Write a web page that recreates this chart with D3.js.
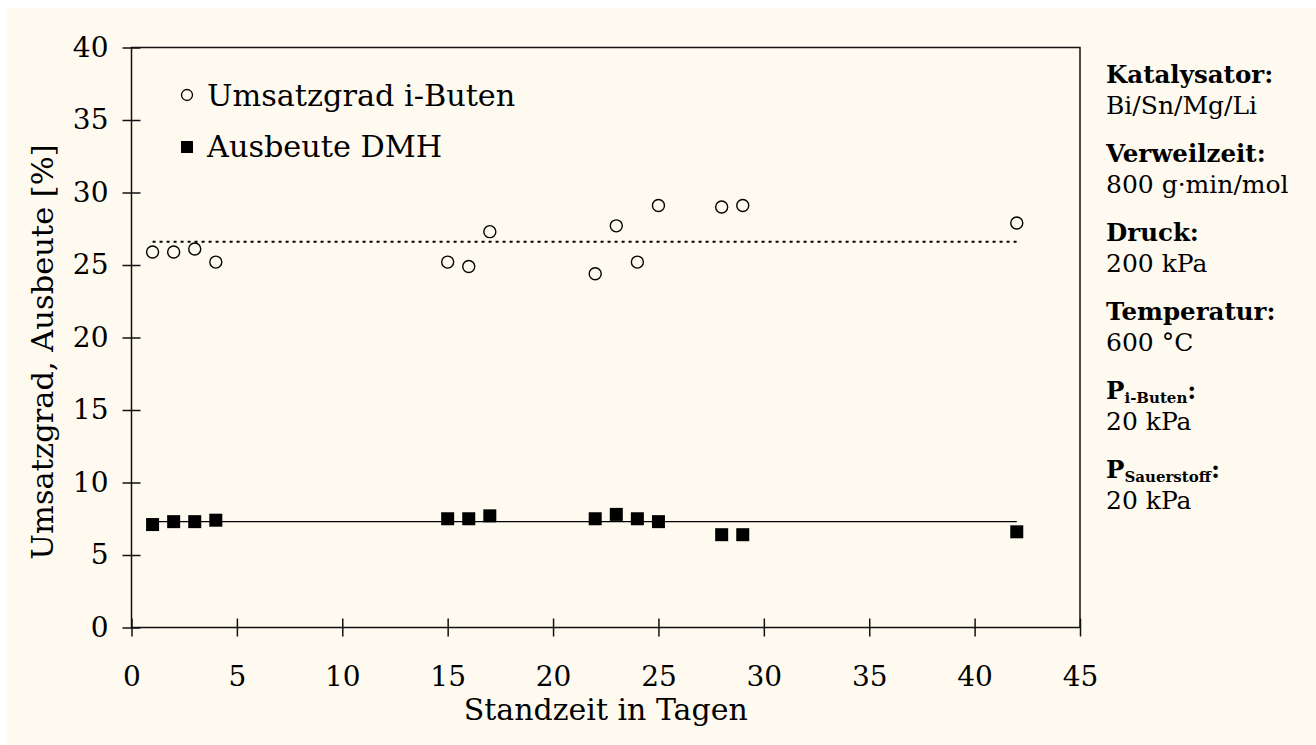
<!DOCTYPE html>
<html>
<head>
<meta charset="utf-8">
<script src="https://cdn.jsdelivr.net/npm/d3@7"></script>
<style>
  body { margin: 0; background: #fff; }
  svg text { font-family: "DejaVu Serif", serif; fill: #000; }
</style>
</head>
<body>
<script>
// days on stream
const tage = [1, 2, 3, 4, 15, 16, 17, 22, 23, 24, 25, 28, 29, 42];
// conversion i-butene [%]
const umsatz = [25.9, 25.9, 26.1, 25.2, 25.2, 24.9, 27.3, 24.4, 27.7, 25.2, 29.1, 29.0, 29.1, 27.9];
// yield DMH [%]
const ausbeute = [7.1, 7.3, 7.3, 7.4, 7.5, 7.5, 7.7, 7.5, 7.8, 7.5, 7.3, 6.4, 6.4, 6.6];
// mean lines
const umsatzMittel = 26.6;
const ausbeuteMittel = 7.3;

const xTicks = [0, 5, 10, 15, 20, 25, 30, 35, 40, 45];
const yTicks = [0, 5, 10, 15, 20, 25, 30, 35, 40];

const legendLabels = ["Umsatzgrad i-Buten", "Ausbeute DMH"];

// conditions on the right
const bedingungen = [
  {label: "Katalysator:", wert: "Bi/Sn/Mg/Li"},
  {label: "Verweilzeit:", wert: "800 g\u00b7min/mol"},
  {label: "Druck:", wert: "200 kPa"},
  {label: "Temperatur:", wert: "600 \u00b0C"},
  {label: "P", sub: "i-Buten", wert: "20 kPa"},
  {label: "P", sub: "Sauerstoff", wert: "20 kPa"}
];

const W = 1316, H = 745;
const pLeft = 131.5, pRight = 1080, pTop = 47.5, pBottom = 627.5;

const svg = d3.select("body").append("svg")
  .attr("width", W).attr("height", H);

svg.append("rect")
  .attr("x", 7).attr("y", 8)
  .attr("width", W - 7).attr("height", H - 8)
  .attr("fill", "#fffaf0");

const x = d3.scaleLinear().domain([0, 45]).range([pLeft, pRight]);
const y = d3.scaleLinear().domain([0, 40]).range([pBottom, pTop]);

// frame
svg.append("rect")
  .attr("x", pLeft).attr("y", pTop)
  .attr("width", pRight - pLeft).attr("height", pBottom - pTop)
  .attr("fill", "none").attr("stroke", "#111").attr("stroke-width", 1.5);

// x axis, ticks crossing the line
const xAxis = svg.append("g")
  .attr("transform", "translate(0," + pBottom + ")")
  .call(d3.axisBottom(x).tickValues(xTicks).tickSize(9).tickPadding(30));
xAxis.selectAll(".tick line").attr("y1", -9);
xAxis.select(".domain").remove();

const yAxis = svg.append("g")
  .attr("transform", "translate(" + pLeft + ",0)")
  .call(d3.axisLeft(y).tickValues(yTicks).tickSize(9).tickPadding(14));
yAxis.selectAll(".tick line").attr("x1", 9);
yAxis.select(".domain").remove();

svg.selectAll(".tick line").attr("stroke", "#111").attr("stroke-width", 1.5);
svg.selectAll(".tick text")
  .style("font-family", "DejaVu Serif")
  .style("font-size", "28px")
  .attr("fill", "#000");

// axis titles
svg.append("text")
  .attr("x", (pLeft + pRight) / 2).attr("y", 720)
  .attr("text-anchor", "middle")
  .style("font-size", "30px")
  .text("Standzeit in Tagen");

svg.append("text")
  .attr("transform", "translate(53,352) rotate(-90)")
  .attr("text-anchor", "middle")
  .style("font-size", "30.5px")
  .text("Umsatzgrad, Ausbeute [%]");

// mean lines
svg.append("line")
  .attr("x1", x(tage[0])).attr("x2", x(tage[tage.length - 1]))
  .attr("y1", y(umsatzMittel)).attr("y2", y(umsatzMittel))
  .attr("stroke", "#000").attr("stroke-width", 2)
  .attr("stroke-dasharray", "3,4");

svg.append("line")
  .attr("x1", x(tage[0])).attr("x2", x(tage[tage.length - 1]))
  .attr("y1", y(ausbeuteMittel)).attr("y2", y(ausbeuteMittel))
  .attr("stroke", "#000").attr("stroke-width", 1.4);

// points
svg.selectAll("circle.umsatz")
  .data(tage)
  .enter().append("circle")
  .attr("class", "umsatz")
  .attr("cx", d => x(d))
  .attr("cy", (d, i) => y(umsatz[i]))
  .attr("r", 6)
  .attr("fill", "none")
  .attr("stroke", "#000").attr("stroke-width", 1.4);

svg.selectAll("rect.ausbeute")
  .data(tage)
  .enter().append("rect")
  .attr("class", "ausbeute")
  .attr("x", d => x(d) - 6.5)
  .attr("y", (d, i) => y(ausbeute[i]) - 6.5)
  .attr("width", 13).attr("height", 13)
  .attr("fill", "#000");

// legend
const legend = svg.append("g");
legend.append("circle")
  .attr("cx", 187).attr("cy", 95).attr("r", 5.5)
  .attr("fill", "none").attr("stroke", "#000").attr("stroke-width", 1.3);
legend.append("rect")
  .attr("x", 181).attr("y", 141).attr("width", 12).attr("height", 12)
  .attr("fill", "#000");
legend.selectAll("text")
  .data(legendLabels)
  .enter().append("text")
  .attr("x", 207)
  .attr("y", (d, i) => 106 + i * 51)
  .style("font-size", "30.3px")
  .text(d => d);

// conditions block
const labelY = [83, 162, 241, 320, 399, 478];
const g = svg.append("g").attr("transform", "translate(1106,0)");
bedingungen.forEach((b, i) => {
  const t = g.append("text")
    .attr("x", 0).attr("y", labelY[i])
    .style("font-size", "24.5px").style("font-weight", "bold");
  if (b.sub) {
    t.append("tspan").text(b.label);
    t.append("tspan").attr("dy", 4).style("font-size", "15px").text(b.sub);
    t.append("tspan").attr("dy", -4).text(":");
  } else {
    t.text(b.label);
  }
  g.append("text")
    .attr("x", 0).attr("y", labelY[i] + 31)
    .style("font-size", "25px")
    .text(b.wert);
});
</script>
</body>
</html>
